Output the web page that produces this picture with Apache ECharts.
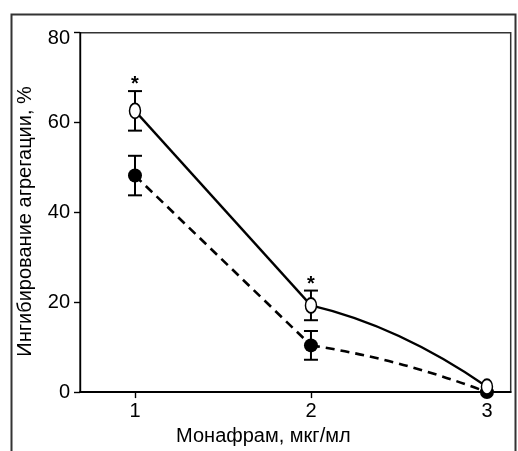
<!DOCTYPE html>
<html><head><meta charset="utf-8">
<script src="https://cdn.jsdelivr.net/npm/echarts@6/dist/echarts.min.js"></script>
<style>html,body{margin:0;padding:0;background:#fff}#c{width:518px;height:451px}</style>
</head><body><div id="c"></div>
<script>
const doses = [1, 2, 3];
const xTicks = [1, 2, 3];
const yMin = 0;
const yMax = 80;
const yStep = 20;
const openMean = [62.6, 19.3, 1.2];
const openErr = [4.4, 3.3, 0];
const filledMean = [48.2, 10.4, 0];
const filledErr = [4.4, 3.2, 0];
const starDoses = [1, 2];
const starValues = [69.8, 25.2];
const xName = 'Монафрам, мкг/мл';
const yName = 'Ингибирование агрегации, %';

const FONT = '"Liberation Sans", Arial, sans-serif';

function curveRender(means, bends, dash, width) {
  return function (params, api) {
    const i = params.dataIndex;
    if (i === 0) return null;
    const p0 = api.coord([doses[i - 1], means[i - 1]]);
    const p1 = api.coord([doses[i], means[i]]);
    const b = bends[i];
    const cx = (p0[0] + p1[0]) / 2, cy = (p0[1] + p1[1]) / 2 - b;
    return {
      type: 'bezierCurve',
      shape: { x1: p0[0], y1: p0[1], x2: p1[0], y2: p1[1], cpx1: cx, cpy1: cy },
      style: { stroke: '#000', lineWidth: width, lineDash: dash, fill: null }
    };
  };
}

function errRender(params, api) {
  const x = api.value(0), m = api.value(1), e = api.value(2);
  if (!e) return null;
  const t = api.coord([x, m + e]);
  const b = api.coord([x, m - e]);
  const hw = 7;
  const st = { stroke: '#000', lineWidth: 2 };
  return {
    type: 'group',
    children: [
      { type: 'line', shape: { x1: t[0], y1: t[1], x2: b[0], y2: b[1] }, style: st },
      { type: 'line', shape: { x1: t[0] - hw, y1: t[1], x2: t[0] + hw, y2: t[1] }, style: st },
      { type: 'line', shape: { x1: b[0] - hw, y1: b[1], x2: b[0] + hw, y2: b[1] }, style: st }
    ]
  };
}

function starRender(params, api) {
  const p = api.coord([api.value(0), api.value(1)]);
  return {
    type: 'text', x: p[0], y: p[1] + 6,
    style: { text: '*', fontSize: 20, fontWeight: 'bold', fontFamily: FONT, fill: '#000', align: 'center', verticalAlign: 'middle' }
  };
}

const openPts = doses.map((d, i) => [d, openMean[i]]);
const filledPts = doses.map((d, i) => [d, filledMean[i]]);

const chart = echarts.init(document.getElementById('c'), null, { renderer: 'canvas' });
chart.setOption({
  animation: false,
  backgroundColor: '#fff',
  textStyle: { fontFamily: FONT, color: '#000' },
  graphic: [{
    type: 'rect', left: 9, top: 12, z: 0,
    shape: { width: 504, height: 470 },
    style: { fill: null, stroke: '#333', lineWidth: 2 }
  }],
  grid: {
    left: 80, right: 7.3, top: 32.7, bottom: 50.3,
    show: true, borderColor: '#333', borderWidth: 1.5, backgroundColor: 'transparent'
  },
  xAxis: {
    type: 'value', min: 0.6875, max: 3.135,
    name: xName, nameLocation: 'middle', nameGap: 25,
    nameTextStyle: { fontSize: 20, fontFamily: FONT, color: '#000', padding: [0, 64, 0, 0] },
    axisLine: { show: true, lineStyle: { color: '#000', width: 1.8 } },
    axisTick: { show: true, length: 6, customValues: xTicks, lineStyle: { color: '#000', width: 1.4 } },
    axisLabel: { customValues: xTicks, fontSize: 20, margin: 9, color: '#000', fontFamily: FONT },
    splitLine: { show: false }
  },
  yAxis: {
    type: 'value', min: yMin, max: yMax, interval: yStep,
    name: yName, nameLocation: 'middle', nameGap: 45,
    nameTextStyle: { fontSize: 20, fontFamily: FONT, color: '#000', padding: [0, 18, 0, 0] },
    axisLine: { show: true, lineStyle: { color: '#000', width: 1.4 } },
    axisTick: { show: true, length: 6, lineStyle: { color: '#000', width: 1.4 } },
    axisLabel: {
      fontSize: 20, margin: 10, color: '#000', fontFamily: FONT,
      formatter: v => (v === yMax ? '{t|' + v + '}' : String(v)),
      rich: { t: { fontSize: 20, fontFamily: FONT, color: '#000', padding: [12, 0, 0, 0] } }
    },
    splitLine: { show: false }
  },
  series: [
    { type: 'custom', name: 'open-line', renderItem: curveRender(openMean, [0, 0, 20], null, 2.3), data: openPts, z: 1, clip: false },
    { type: 'custom', name: 'filled-line', renderItem: curveRender(filledMean, [0, 0, 10], [9, 6], 2.6), data: filledPts, z: 1, clip: false },
    { type: 'custom', name: 'open-err', renderItem: errRender, data: doses.map((d, i) => [d, openMean[i], openErr[i]]), z: 2 },
    { type: 'custom', name: 'filled-err', renderItem: errRender, data: doses.map((d, i) => [d, filledMean[i], filledErr[i]]), z: 2 },
    { type: 'scatter', name: 'filled', data: filledPts, symbol: 'circle', symbolSize: [14, 14],
      itemStyle: { color: '#000', opacity: 1 }, z: 3 },
    { type: 'scatter', name: 'open', data: openPts, symbol: 'circle', symbolSize: [11, 15],
      itemStyle: { color: '#fff', borderColor: '#000', borderWidth: 1.7, opacity: 1 }, z: 4 },
    { type: 'custom', name: 'stars', renderItem: starRender, data: starDoses.map((d, i) => [d, starValues[i]]), z: 5 }
  ]
});
</script>
</body></html>
